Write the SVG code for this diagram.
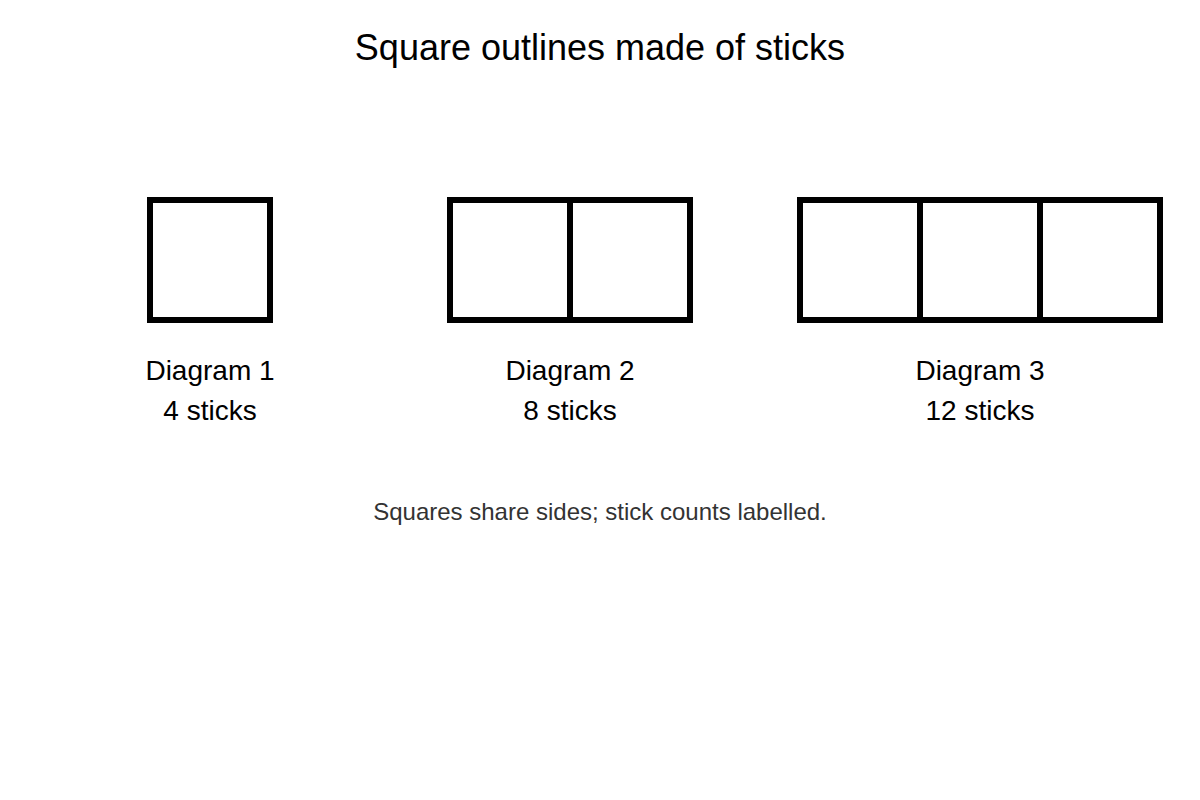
<svg xmlns="http://www.w3.org/2000/svg" width="1200" height="800" viewBox="0 0 1200 800">
<style>
.stick{fill:none;stroke:#000;stroke-width:6;stroke-linecap:square}
.lbl{font-family:"Liberation Sans",Arial,sans-serif;font-size:28px;fill:#000;text-anchor:middle}
.title{font-family:"Liberation Sans",Arial,sans-serif;font-size:36px;fill:#000;text-anchor:middle}
.note{font-family:"Liberation Sans",Arial,sans-serif;font-size:24px;fill:#333;text-anchor:middle}
</style>
<rect width="1200" height="800" fill="#fff"/>
<text class="title" x="600" y="60">Square outlines made of sticks</text>
<g id="diagram1">
<rect class="stick" x="150" y="200" width="120" height="120"/>
<text class="lbl" x="210" y="380">Diagram 1</text>
<text class="lbl" x="210" y="420">4 sticks</text>
</g>
<g id="diagram2">
<rect class="stick" x="450" y="200" width="240" height="120"/>
<line class="stick" x1="570" y1="200" x2="570" y2="320"/>
<text class="lbl" x="570" y="380">Diagram 2</text>
<text class="lbl" x="570" y="420">8 sticks</text>
</g>
<g id="diagram3">
<rect class="stick" x="800" y="200" width="360" height="120"/>
<line class="stick" x1="920" y1="200" x2="920" y2="320"/>
<line class="stick" x1="1040" y1="200" x2="1040" y2="320"/>
<text class="lbl" x="980" y="380">Diagram 3</text>
<text class="lbl" x="980" y="420">12 sticks</text>
</g>
<g id="connectors"/>
<text class="note" x="600" y="520">Squares share sides; stick counts labelled.</text>
</svg>
